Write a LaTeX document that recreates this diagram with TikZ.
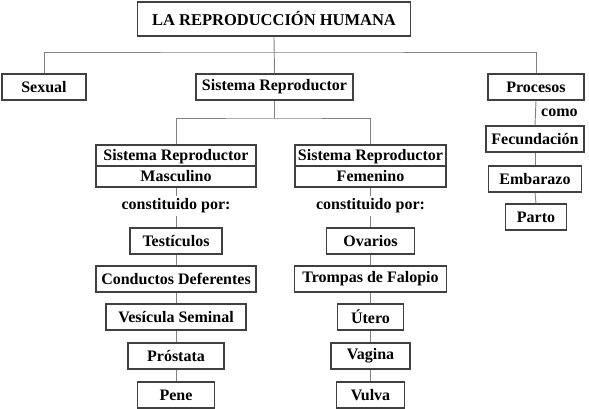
\documentclass[tikz,border=0pt]{standalone}
\usepackage{fontspec}
\setmainfont{Liberation Serif}
\begin{document}
\begin{tikzpicture}[x=1pt,y=1pt,
  box/.style={draw=gray!50!black, line width=1.3pt, fill=white, minimum height=26, inner sep=0pt,
    font=\fontsize{16}{18}\selectfont\bfseries},
  plain/.style={inner sep=3pt, font=\fontsize{16}{18}\selectfont\bfseries},
  conn/.style={draw=gray, line width=0.9pt}]
\useasboundingbox (0,0) rectangle (589,409);
% top level
\node[box, minimum width=273, minimum height=34, font=\fontsize{16.5}{18}\selectfont\bfseries] (title) at (274,390) {LA REPRODUCCIÓN HUMANA};
\node[box, minimum width=84] (sexual) at (44,322) {Sexual};
\node[box, minimum width=157] (sisrep) at (274.5,322) {Sistema Reproductor};
\node[box, minimum width=96] (procesos) at (536,322) {Procesos};
\node[plain, anchor=west] (como) at (538,296) {como};
\node[box, minimum width=98] (fecund) at (535,270) {Fecundación};
\node[box, minimum width=93] (embarazo) at (535,230) {Embarazo};
\node[box, minimum width=61] (parto) at (536,192) {Parto};
% systems
\node[box, minimum width=160, minimum height=42, align=center, font=\fontsize{16}{21}\selectfont\bfseries] (masc) at (176,243) {Sistema Reproductor\\Masculino};
\node[box, minimum width=151, minimum height=42, align=center, font=\fontsize{16}{21}\selectfont\bfseries] (fem) at (370.5,243) {Sistema Reproductor\\Femenino};
\draw[draw=gray!50!black, line width=1.3pt] (masc.west) -- (masc.east);
\draw[draw=gray!50!black, line width=1.3pt] (fem.west) -- (fem.east);
\node[plain] (mtext) at (176,203) {constituido por:};
\node[plain] (ftext) at (370.5,203) {constituido por:};
% male
\node[box, minimum width=92] (testiculos) at (176,168) {Testículos};
\node[box, minimum width=160] (conductos) at (176,130) {Conductos Deferentes};
\node[box, minimum width=140] (vesicula) at (176,92) {Vesícula Seminal};
\node[box, minimum width=96] (prostata) at (176,53) {Próstata};
\node[box, minimum width=77] (pene) at (176,14) {Pene};
% female
\node[box, minimum width=88] (ovarios) at (370.5,168) {Ovarios};
\node[box, minimum width=152] (trompas) at (370.5,130) {Trompas de Falopio};
\node[box, minimum width=66] (utero) at (370.5,92) {Útero};
\node[box, minimum width=79] (vagina) at (370.5,53) {Vagina};
\node[box, minimum width=68] (vulva) at (370.5,14) {Vulva};
% connectors
\coordinate (top) at (274,357);
\coordinate (mid) at (274.5,291);
\draw[conn] (title.south) -- (sisrep.north);
\draw[conn] (sexual.north) |- (top) -| (procesos.north);
\draw[conn] (sisrep.south) -- (mid);
\draw[conn] (masc.north) |- (mid) -| (fem.north);
\draw[conn] (procesos.south) -- (fecund.north);
\draw[conn] (fecund.south) -- (embarazo.north);
\draw[conn] (embarazo.south) -- (parto.north);
\draw[conn] (masc.south) -- (mtext.north);
\draw[conn] (mtext.south) -- (testiculos.north);
\draw[conn] (testiculos.south) -- (conductos.north);
\draw[conn] (conductos.south) -- (vesicula.north);
\draw[conn] (vesicula.south) -- (prostata.north);
\draw[conn] (prostata.south) -- (pene.north);
\draw[conn] (fem.south) -- (ftext.north);
\draw[conn] (ftext.south) -- (ovarios.north);
\draw[conn] (ovarios.south) -- (trompas.north);
\draw[conn] (trompas.south) -- (utero.north);
\draw[conn] (utero.south) -- (vagina.north);
\draw[conn] (vagina.south) -- (vulva.north);
\end{tikzpicture}
\end{document}
